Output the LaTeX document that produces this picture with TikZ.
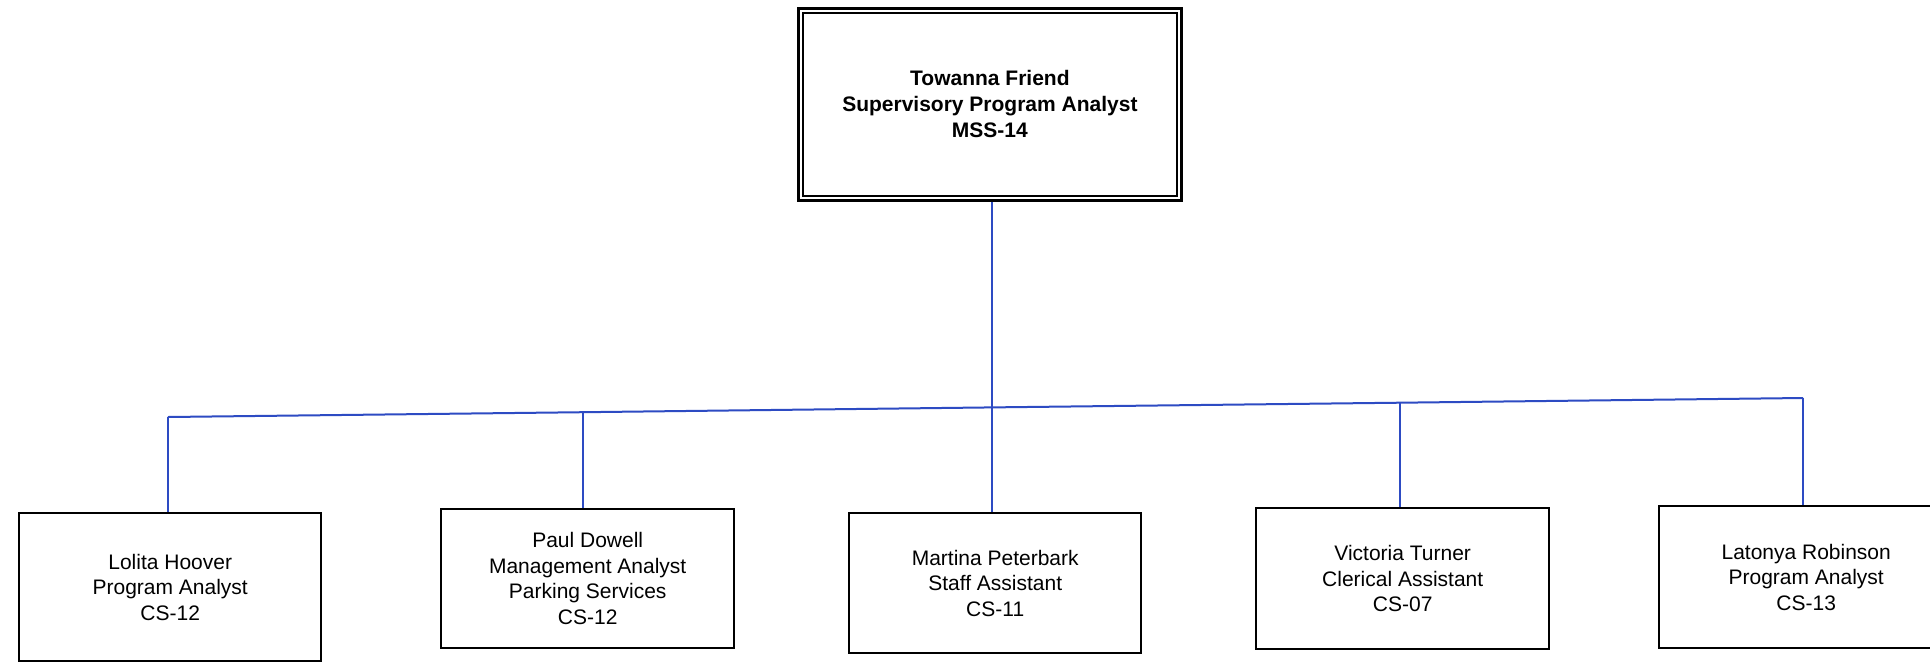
\documentclass[tikz,border=0pt]{standalone}
\usepackage{fontspec}
\setmainfont{Liberation Sans}
\definecolor{linkblue}{RGB}{45,75,195}
\tikzset{
  personbox/.style={draw=black, line width=2.4pt, fill=white, rectangle, anchor=north west,
    align=center, inner sep=0pt, font=\fontsize{21}{25.5}\selectfont},
  headbox/.style={draw=black, line width=2.8pt, fill=white, rectangle, anchor=north west,
    align=center, inner sep=0pt, font=\bfseries\fontsize{21}{26}\selectfont},
  link/.style={draw=linkblue, line width=2pt}
}
\begin{document}
\begin{tikzpicture}[x=1pt,y=-1pt]
\useasboundingbox (0,0) rectangle (1930,662);
\clip (0,0) rectangle (1930,662);
\fill[white] (0,0) rectangle (1930,662);

% bus joints
\coordinate (j1) at (168,417);
\coordinate (j2) at (583,412.2);
\coordinate (j3) at (992,407.4);
\coordinate (j4) at (1400,402.7);
\coordinate (j5) at (1803,398);

% head
\node[headbox, minimum width=383pt, minimum height=192pt] (top) at (797,7)
  {Towanna Friend\\Supervisory Program Analyst\\MSS-14};
\draw[line width=1.8pt] ([shift={(6,6)}]top.north west) rectangle ([shift={(-6,-6)}]top.south east);

% staff
\node[personbox, minimum width=302pt, minimum height=148pt] (b1) at (18,512)
  {Lolita Hoover\\Program Analyst\\CS-12};
\node[personbox, minimum width=293pt, minimum height=139pt] (b2) at (440,508)
  {Paul Dowell\\Management Analyst\\Parking Services\\CS-12};
\node[personbox, minimum width=292pt, minimum height=140pt] (b3) at (848,512)
  {Martina Peterbark\\Staff Assistant\\CS-11};
\node[personbox, minimum width=293pt, minimum height=141pt] (b4) at (1255,507)
  {Victoria Turner\\Clerical Assistant\\CS-07};
\node[personbox, minimum width=294pt, minimum height=142pt] (b5) at (1658,505)
  {Latonya Robinson\\Program Analyst\\CS-13};

% connectors
\draw[link] (top.south -| j3) -- (j3);
\draw[link] (j1) -- (j2) -- (j3) -- (j4) -- (j5);
\draw[link] (j1) -- (j1 |- b1.north);
\draw[link] (j2) -- (j2 |- b2.north);
\draw[link] (j3) -- (j3 |- b3.north);
\draw[link] (j4) -- (j4 |- b4.north);
\draw[link] (j5) -- (j5 |- b5.north);
\end{tikzpicture}
\end{document}
